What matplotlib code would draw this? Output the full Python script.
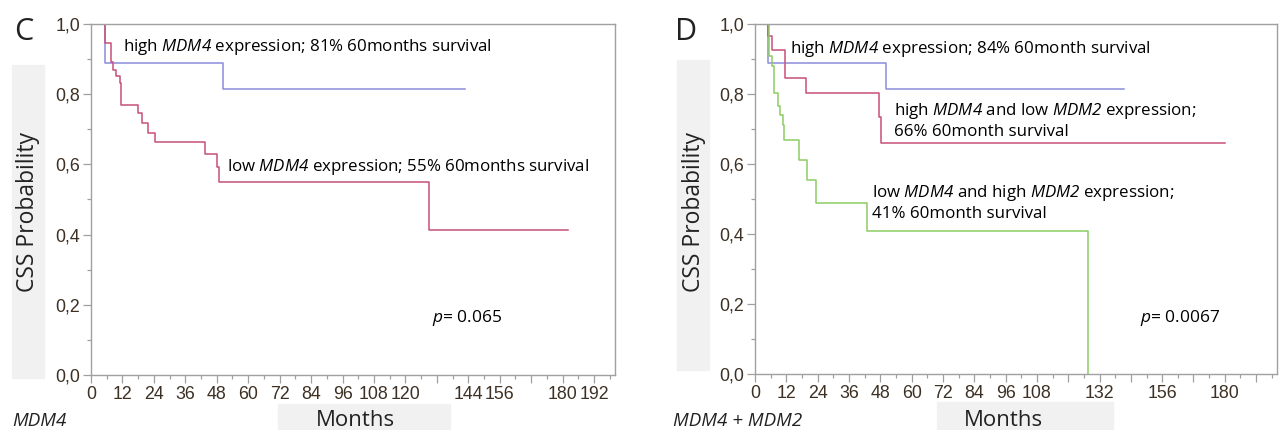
#!/usr/bin/env python3

'''
Kaplan-Meier CSS curves, MDM4 / MDM4 + MDM2
'''

import numpy as np
import matplotlib
matplotlib.use('Agg')
import matplotlib.pyplot as plt
from matplotlib.patches import Rectangle
from matplotlib.ticker import MultipleLocator, FixedLocator


#==================================================================
# data (months, survival probability)
c_high_t = [4.8, 5.4, 50.5, 142.7]
c_high_s = [1.0, 0.889, 0.815, 0.815]

c_low_t = [4.8, 5.5, 7.5, 8.4, 9.7, 11.0, 11.6, 17.8, 19.3, 21.6, 24.4, 43.7, 48.2, 49.0, 129.0, 182.0]
c_low_s = [1.0, 0.946, 0.893, 0.870, 0.851, 0.832, 0.770, 0.746, 0.718, 0.689, 0.665, 0.631, 0.593, 0.551, 0.413, 0.413]

d_high_t = [4.4, 5.0, 50.0, 141.5]
d_high_s = [1.0, 0.889, 0.813, 0.813]

d_mid_t = [4.4, 4.8, 6.7, 11.6, 19.5, 47.5, 48.3, 180.0]
d_mid_s = [1.0, 0.966, 0.925, 0.846, 0.803, 0.735, 0.661, 0.661]

d_low_t = [4.4, 5.5, 6.7, 7.4, 8.8, 9.7, 10.6, 11.3, 16.7, 19.8, 23.2, 43.0, 127.6, 127.6]
d_low_s = [1.0, 0.908, 0.879, 0.803, 0.766, 0.741, 0.712, 0.669, 0.612, 0.553, 0.490, 0.410, 0.0, 0.0]

c_xlabels = ['0', '12', '24', '36', '48', '60', '72', '84', '96', '108', '120', '', '144', '156', '', '180', '192']
d_xlabels = ['0', '12', '24', '36', '48', '60', '72', '84', '96', '108', '', '132', '', '156', '', '180', '']
ylabels = ['0,0', '0,2', '0,4', '0,6', '0,8', '1,0']

BLUE = '#8c8cdc'
RED = '#c85078'
GREEN = '#8ccd64'
TICKCOL = '#3d3024'
SPINE = '#a0a0a0'

plt.rcParams['font.family'] = ['Open Sans', 'DejaVu Sans']
plt.rcParams['mathtext.fontset'] = 'custom'
# math pieces are only used for the italic gene names and p
plt.rcParams['mathtext.rm'] = 'Open Sans:italic'
plt.rcParams['mathtext.it'] = 'Open Sans:italic'

W, H = 1280.0, 430.0


#==================================================================
def px_rect(fig, x, y, w, h, col='#f1f1f1'):
    fig.patches.append(Rectangle((x / W, 1 - (y + h) / H), w / W, h / H,
                                 transform=fig.transFigure, color=col, zorder=0))


def setup_axes(ax, xlabels):
    ax.set_xlim(0, 200)
    ax.set_ylim(0, 1)
    ax.xaxis.set_major_locator(FixedLocator(np.arange(0, 193, 12)))
    ax.set_xticklabels(xlabels)
    ax.xaxis.set_minor_locator(MultipleLocator(6))
    ax.yaxis.set_major_locator(FixedLocator(np.arange(0, 1.01, 0.2)))
    ax.set_yticklabels(ylabels)
    ax.yaxis.set_minor_locator(MultipleLocator(0.1))
    for s in ax.spines.values():
        s.set_color(SPINE)
        s.set_linewidth(1.0)
    ax.tick_params(which='major', length=6, width=0.9, color=SPINE, pad=2,
                   labelcolor=TICKCOL, labelsize=12.8)
    ax.tick_params(which='minor', length=3, width=0.9, color=SPINE)
    for lab in ax.get_xticklabels() + ax.get_yticklabels():
        lab.set_family(['Liberation Sans', 'DejaVu Sans'])


#==================================================================
def real_main():
    fig = plt.figure(figsize=(12.8, 4.3), dpi=100)

    # light grey label backgrounds
    px_rect(fig, 12, 65, 32, 313)
    px_rect(fig, 278, 404, 172, 26)
    px_rect(fig, 677, 60, 32, 310)
    px_rect(fig, 937, 402, 176, 28)

    axc = fig.add_axes([91 / W, 1 - 375 / H, 524 / W, 351 / H])
    axd = fig.add_axes([755 / W, 1 - 374 / H, 522 / W, 350 / H])

    fs = 12.2
    #panel C
    setup_axes(axc, c_xlabels)
    axc.plot(c_high_t, c_high_s, drawstyle='steps-post', color=BLUE, lw=1.1)
    axc.plot(c_low_t, c_low_s, drawstyle='steps-post', color=RED, lw=1.1)
    axc.text(12.3, 0.934, r'high $\mathrm{MDM4}$ expression; 81% 60months survival',
             fontsize=fs, va='center')
    axc.text(52, 0.593, r'low $\mathrm{MDM4}$ expression; 55% 60months survival',
             fontsize=fs, va='center')
    axc.text(130, 0.162, r'$\mathrm{p}$= 0.065', fontsize=12.5, va='center')

    #panel D
    setup_axes(axd, d_xlabels)
    axd.plot(d_high_t, d_high_s, drawstyle='steps-post', color=BLUE, lw=1.1)
    axd.plot(d_mid_t, d_mid_s, drawstyle='steps-post', color=RED, lw=1.1)
    axd.plot(d_low_t, d_low_s, drawstyle='steps-post', color=GREEN, lw=1.1)
    axd.text(13.4, 0.929, r'high $\mathrm{MDM4}$ expression; 84% 60month survival',
             fontsize=fs, va='center')
    axd.text(53.4, 0.751, r'high $\mathrm{MDM4}$ and low $\mathrm{MDM2}$ expression;',
             fontsize=fs, va='center')
    axd.text(53.4, 0.691, '66% 60month survival', fontsize=fs, va='center')
    axd.text(45, 0.517, r'low $\mathrm{MDM4}$ and high $\mathrm{MDM2}$ expression;',
             fontsize=fs, va='center')
    axd.text(45, 0.457, '41% 60month survival', fontsize=fs, va='center')
    axd.text(147.7, 0.16, r'$\mathrm{p}$= 0.0067', fontsize=12.5, va='center')

    #labels
    for xl, xm, xt, letter, title in [(28, 355, 14, 'C', 'MDM4'),
                                      (694, 1003, 675, 'D', 'MDM4 + MDM2')]:
        fig.text(xl / W, 1 - 212 / H, 'CSS Probability', rotation=90,
                 fontsize=16.5, ha='center', va='center', color='#222222')
        fig.text(xm / W, 1 - 421 / H, 'Months', fontsize=16,
                 ha='center', va='center', color='#222222')
        fig.text(xt / W, 1 - 32 / H, letter, fontsize=22,
                 ha='left', va='center', color='#222222')
        fig.text((12 if letter == 'C' else 673) / W, 1 - 421 / H, title,
                 fontsize=13.5, style='italic', ha='left', va='center', color='#222222')

    fig.savefig('out.png', dpi=100)


#==================================================================
if __name__ == "__main__":
    real_main()
